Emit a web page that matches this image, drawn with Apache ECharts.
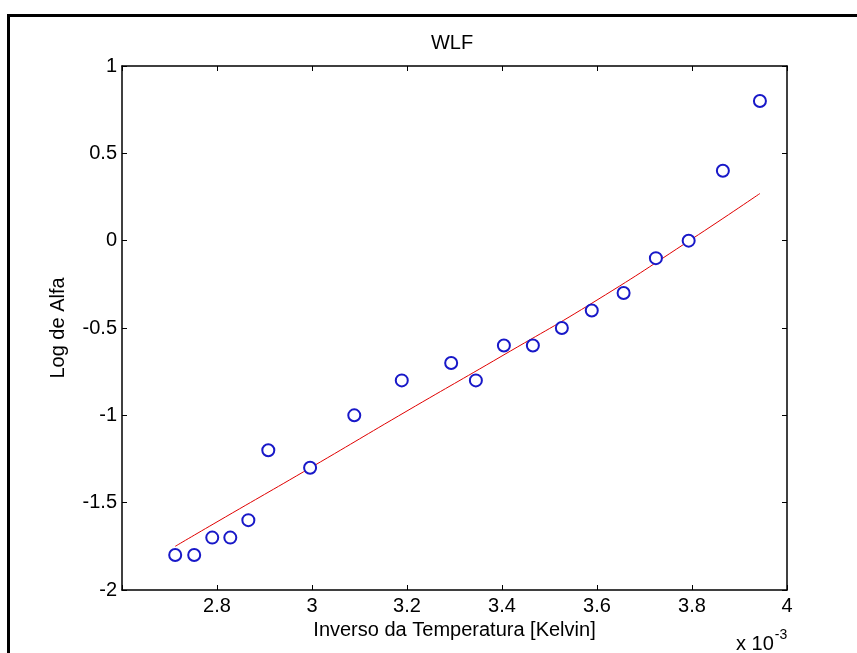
<!DOCTYPE html>
<html>
<head>
<meta charset="utf-8">
<script src="https://cdn.jsdelivr.net/npm/echarts@6/dist/echarts.min.js"></script>
<style>
html,body{margin:0;padding:0;background:#fff;}
#c{width:857px;height:653px;}
</style>
</head>
<body>
<div id="c"></div>
<script>
// Data (x in units of 10^-3 1/K)
const xData = [2.712, 2.752, 2.790, 2.828, 2.866, 2.908, 2.996, 3.089, 3.189, 3.293, 3.345, 3.404, 3.465, 3.526, 3.589, 3.656, 3.724, 3.793, 3.865, 3.943];
const yData = [-1.8, -1.8, -1.7, -1.7, -1.6, -1.2, -1.3, -1.0, -0.8, -0.7, -0.8, -0.6, -0.6, -0.5, -0.4, -0.3, -0.1, 0.0, 0.4, 0.8];
const fitX = [2.712, 2.8, 3.0, 3.2, 3.4, 3.6, 3.8, 3.943];
const fitY = [-1.75, -1.61, -1.295, -0.975, -0.66, -0.34, 0.01, 0.27];
const xTicks = ['2.8', '3', '3.2', '3.4', '3.6', '3.8', '4'];
const yTicks = ['-2', '-1.5', '-1', '-0.5', '0', '0.5', '1'];
const titleText = 'WLF';
const xLabel = 'Inverso da Temperatura [Kelvin]';
const yLabel = 'Log de Alfa';

const font = 'Liberation Sans, Arial, sans-serif';
const fs = 20;
const chart = echarts.init(document.getElementById('c'), null, {renderer: 'canvas'});

function fmtX(v) {
  const s = (Math.round(v * 10) / 10).toString();
  return xTicks.indexOf(s) >= 0 ? s : '';
}
function fmtY(v) {
  const s = (Math.round(v * 10) / 10).toString();
  return yTicks.indexOf(s) >= 0 ? s : '';
}

const tickStyle = {show: true, inside: true, length: 5, lineStyle: {color: '#000', width: 1}};
const lineStyle = {show: true, onZero: false, lineStyle: {color: '#000', width: 1.5}};

chart.setOption({
  backgroundColor: '#fff',
  animation: false,
  grid: {left: 122, top: 66, width: 665, height: 524, containLabel: false},
  xAxis: [{
    type: 'value', min: 2.6, max: 4.0, interval: 0.2, position: 'bottom',
    axisLine: lineStyle, axisTick: tickStyle, splitLine: {show: false},
    axisLabel: {formatter: fmtX, color: '#000', fontFamily: font, fontSize: fs, margin: 6},
    name: xLabel, nameLocation: 'middle', nameGap: 28,
    nameTextStyle: {fontFamily: font, fontSize: fs, color: '#000'}
  }, {
    type: 'value', min: 2.6, max: 4.0, interval: 0.2, position: 'top',
    axisLine: lineStyle, axisTick: tickStyle, splitLine: {show: false},
    axisLabel: {show: false}
  }],
  yAxis: [{
    type: 'value', min: -2, max: 1, interval: 0.5, position: 'left',
    axisLine: lineStyle, axisTick: tickStyle, splitLine: {show: false},
    axisLabel: {formatter: fmtY, color: '#000', fontFamily: font, fontSize: fs, margin: 5},
    name: yLabel, nameLocation: 'middle', nameGap: 54, nameRotate: 90,
    nameTextStyle: {fontFamily: font, fontSize: fs, color: '#000'}
  }, {
    type: 'value', min: -2, max: 1, interval: 0.5, position: 'right',
    axisLine: lineStyle, axisTick: tickStyle, splitLine: {show: false},
    axisLabel: {show: false}
  }],
  series: [{
    type: 'line',
    data: fitX.map((x, i) => [x, fitY[i]]),
    showSymbol: false, symbol: 'none', smooth: true,
    lineStyle: {color: '#e00000', width: 1},
    z: 2
  }, {
    type: 'scatter',
    data: xData.map((x, i) => [x, yData[i]]),
    symbol: 'emptyCircle', symbolSize: 12,
    itemStyle: {color: '#1818c8', borderColor: '#1818c8', borderWidth: 1.6, opacity: 1},
    z: 3
  }],
  graphic: [{
    type: 'polyline', silent: true,
    shape: {points: [[8.5, 660], [8.5, 15.5], [870, 15.5]]},
    style: {stroke: '#000', lineWidth: 3, fill: null}
  }, {
    type: 'text', x: 452, y: 43, silent: true,
    style: {text: titleText, fontFamily: font, fontSize: fs, fill: '#000', align: 'center', verticalAlign: 'middle'}
  }, {
    type: 'text', x: 736, y: 628, silent: true,
    style: {
      text: '{a|x 10}{b|-3}',
      rich: {
        a: {fontFamily: font, fontSize: fs, fill: '#000', verticalAlign: 'bottom', lineHeight: 26},
        b: {fontFamily: font, fontSize: 14, fill: '#000', verticalAlign: 'top', lineHeight: 26, padding: [0, 0, 10, 1]}
      }
    }
  }]
});
</script>
</body>
</html>
